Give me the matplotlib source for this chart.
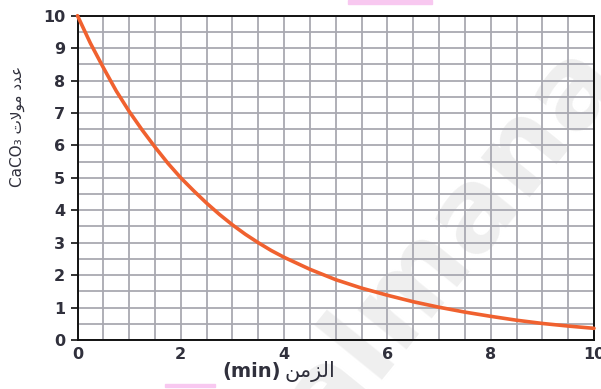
import numpy as np
import matplotlib
matplotlib.use("Agg")
import matplotlib.pyplot as plt
from matplotlib.ticker import MultipleLocator

plt.rcParams['font.family'] = ['DejaVu Sans', 'Liberation Sans']

# moles of CaCO3 left vs. time (min)
time_min = [0, 0.25, 0.5, 0.75, 1, 1.25, 1.5, 1.75, 2, 2.25, 2.5, 2.75,
            3, 3.25, 3.5, 3.75, 4, 4.5, 5, 5.5, 6, 6.5, 7, 7.5, 8, 8.5,
            9, 9.5, 10]
moles_caco3 = [10, 9.15, 8.4, 7.68, 7.05, 6.48, 5.95, 5.45, 5.0, 4.6, 4.22, 3.87,
               3.55, 3.26, 3.0, 2.76, 2.55, 2.18, 1.86, 1.6, 1.38, 1.18, 1.01, 0.86,
               0.73, 0.61, 0.51, 0.43, 0.36]
x_ticks = [0, 2, 4, 6, 8, 10]
y_ticks = list(range(0, 11))

# Arabic labels written in presentation forms, left-to-right visual order
ylabel_ar = "\uFE95\uFEFB\uFEEE\uFEE3 \uFEA9\uFEAA\uFECB"   # عدد مولات
xlabel_ar = "\uFEE6\uFEE3\uFEB0\uFEDF\uFE8D"               # الزمن

W, H = 601, 389
fig = plt.figure(figsize=(W / 100, H / 100), dpi=100)
fig.patch.set_facecolor('white')

ax = fig.add_axes([77.5 / W, 1 - 340 / H, (594 - 77.5) / W, (340 - 15.7) / H])
ax.patch.set_facecolor('none')

ax.set_xlim(0, 10)
ax.set_ylim(0, 10)
ax.xaxis.set_major_locator(plt.FixedLocator(x_ticks))
ax.yaxis.set_major_locator(plt.FixedLocator(y_ticks))
ax.xaxis.set_minor_locator(MultipleLocator(0.5))
ax.yaxis.set_minor_locator(MultipleLocator(0.5))

ax.grid(True, which='both', color='#a9a9b1', linewidth=1.3, zorder=1)
ax.set_axisbelow(True)

for sp in ax.spines.values():
    sp.set_color('#111111')
    sp.set_linewidth(1.4)
    sp.set_zorder(3)

tick_color = '#30303c'
ax.tick_params(axis='x', which='both', length=0, pad=5,
               labelsize=11.5, labelcolor=tick_color)
ax.tick_params(axis='y', which='major', length=5, width=1.2, color='#111111',
               pad=4, labelsize=11.5, labelcolor=tick_color)
ax.tick_params(axis='y', which='minor', length=0)
for lbl in ax.get_xticklabels() + ax.get_yticklabels():
    lbl.set_fontweight('bold')

ax.plot(time_min, moles_caco3, color='#f0612f', linewidth=2.6,
        solid_capstyle='round', solid_joinstyle='round', zorder=4, clip_on=False)

# axis titles
fig.text(17 / W, 1 - 126 / H, "CaCO\u2083 " + ylabel_ar, rotation=90,
         ha='center', va='center', fontsize=11, color='#30303c')
fig.text(281 / W, 1 - 372 / H, "(min)", ha='right', va='center',
         fontsize=14, fontweight='bold', color='#30303c')
fig.text(284 / W, 1 - 371 / H, xlabel_ar, ha='left', va='center',
         fontsize=15, color='#30303c')

# site watermark behind the grid
fig.text(450 / W, 1 - 240 / H, "almana", rotation=51, ha='center', va='center',
         fontsize=82, fontweight='bold', color='#efefef', zorder=-2)

# pink paper marks along the edges
fig.patches.append(plt.Rectangle((348 / W, 1 - 4 / H), 84 / W, 4 / H,
                                 transform=fig.transFigure, color='#f8c8f0', zorder=-1))
fig.patches.append(plt.Rectangle((165 / W, 1 - 387 / H), 50 / W, 3 / H,
                                 transform=fig.transFigure, color='#f8c8f0', zorder=-1))

fig.savefig("out.png", dpi=100)
